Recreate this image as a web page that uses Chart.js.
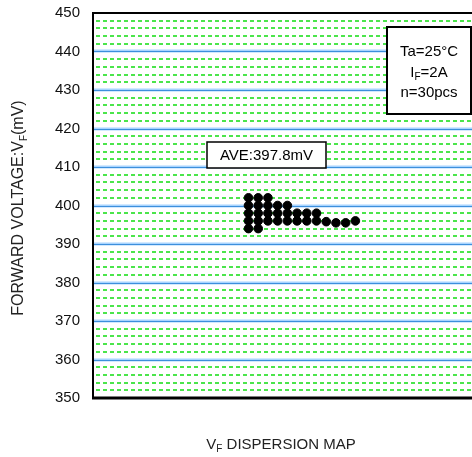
<!DOCTYPE html>
<html>
<head>
<meta charset="utf-8">
<script src="https://cdn.jsdelivr.net/npm/chart.js@4.4.1/dist/chart.umd.min.js"></script>
<style>
  html, body { margin: 0; padding: 0; background: #fff; }
  #vfChart { display: block; }
</style>
</head>
<body>
<canvas id="vfChart" width="472" height="457"></canvas>
<script>
// each dot is one sample: position in its row and its forward voltage (mV)
const sampleIndex = [
  16, 17, 18,
  16, 17, 18, 19, 20,
  16, 17, 18, 19, 20, 21, 22, 23,
  16, 17, 18, 19, 20, 21, 22, 23, 24, 25, 26, 27,
  16, 17
];
const forwardVoltage = [
  402, 402, 402,
  400, 400, 400, 400, 400,
  398, 398, 398, 398, 398, 398, 398, 398,
  396, 396, 396, 396, 396, 396, 396, 396, 395.8, 395.5, 395.5, 396,
  394, 394
];
const yTicks = [350, 360, 370, 380, 390, 400, 410, 420, 430, 440, 450];
const minorStep = 2;
const aveLabel = "AVE:397.8mV";
const conditions = ["Ta=25°C", "I|F|=2A", "n=30pcs"];

const FONT = "'Liberation Sans', Arial, sans-serif";

// text with a subscript part, written as "main|sub|rest"
const drawSubText = (ctx, text, x, y, size, align) => {
  const parts = text.split("|");
  const big = size + "px " + FONT;
  const small = Math.round(size * 0.65) + "px " + FONT;
  ctx.font = big;
  let w = ctx.measureText(parts[0]).width;
  if (parts.length > 1) {
    ctx.font = small;
    w += ctx.measureText(parts[1]).width;
    ctx.font = big;
    w += ctx.measureText(parts[2]).width;
  }
  let cx = align === "center" ? x - w / 2 : x;
  ctx.textAlign = "left";
  ctx.textBaseline = "middle";
  ctx.font = big;
  ctx.fillText(parts[0], cx, y);
  cx += ctx.measureText(parts[0]).width;
  if (parts.length > 1) {
    ctx.font = small;
    ctx.fillText(parts[1], cx, y + size * 0.3);
    cx += ctx.measureText(parts[1]).width;
    ctx.font = big;
    ctx.fillText(parts[2], cx, y);
  }
};

const gridPlugin = {
  id: "gridLines",
  beforeDatasetsDraw(chart) {
    const { ctx, chartArea, scales } = chart;
    const y = scales.y;
    ctx.save();
    for (let v = y.min + minorStep; v < y.max; v += minorStep) {
      const py = Math.round(y.getPixelForValue(v));
      ctx.beginPath();
      if (v % 10 === 0) {
        ctx.setLineDash([]);
        ctx.strokeStyle = "#a8d4ff";
        ctx.lineWidth = 3;
        ctx.moveTo(chartArea.left, py);
        ctx.lineTo(chartArea.right, py);
        ctx.stroke();
        ctx.beginPath();
        ctx.strokeStyle = "#3d8fdc";
        ctx.lineWidth = 1;
        ctx.moveTo(chartArea.left, py + 0.5);
        ctx.lineTo(chartArea.right, py + 0.5);
      } else {
        ctx.setLineDash([4, 3]);
        ctx.strokeStyle = "#11dd11";
        ctx.lineWidth = 1.5;
        ctx.moveTo(chartArea.left + 3, py);
        ctx.lineTo(chartArea.right, py);
      }
      ctx.stroke();
    }
    ctx.restore();
  },
  afterDatasetsDraw(chart) {
    const { ctx, chartArea } = chart;
    ctx.save();
    ctx.setLineDash([]);
    ctx.strokeStyle = "#000";
    // frame (right side runs off the picture)
    ctx.lineWidth = 2;
    ctx.beginPath();
    ctx.moveTo(chartArea.right + 2, chartArea.top);
    ctx.lineTo(chartArea.left, chartArea.top);
    ctx.lineTo(chartArea.left, chartArea.bottom);
    ctx.stroke();
    ctx.lineWidth = 3;
    ctx.beginPath();
    ctx.moveTo(chartArea.left - 1, chartArea.bottom);
    ctx.lineTo(chartArea.right + 2, chartArea.bottom);
    ctx.stroke();

    // average box
    ctx.lineWidth = 1.5;
    ctx.fillStyle = "#fff";
    ctx.fillRect(207, 142, 119, 26);
    ctx.strokeRect(207, 142, 119, 26);
    ctx.fillStyle = "#000";
    drawSubText(ctx, aveLabel, 266.5, 155.5, 15, "center");

    // conditions box
    ctx.lineWidth = 2;
    ctx.fillStyle = "#fff";
    ctx.fillRect(387, 27, 84, 87);
    ctx.strokeRect(387, 27, 84, 87);
    ctx.fillStyle = "#000";
    conditions.forEach((c, i) => drawSubText(ctx, c, 429, 52 + i * 20.5, 15, "center"));

    // axis titles
    ctx.fillStyle = "#222";
    drawSubText(ctx, "V|F| DISPERSION MAP", 281, 445, 15, "center");
    ctx.translate(19, 208);
    ctx.rotate(-Math.PI / 2);
    drawSubText(ctx, "FORWARD VOLTAGE:V|F|(mV)", 0, 0, 16, "center");
    ctx.restore();
  }
};

new Chart(document.getElementById("vfChart"), {
  type: "scatter",
  data: {
    datasets: [
      {
        data: sampleIndex.map((x, i) => ({ x: x, y: forwardVoltage[i] })),
        backgroundColor: "#000",
        borderColor: "#000",
        pointRadius: 4.3,
        pointHoverRadius: 4.3,
      },
    ],
  },
  options: {
    responsive: false,
    animation: false,
    layout: {
      autoPadding: false,
      padding: { top: 13, bottom: 59, right: 0, left: 0 },
    },
    scales: {
      x: {
        type: "linear",
        min: 0,
        max: 39,
        display: false,
      },
      y: {
        min: 350,
        max: 450,
        afterFit: (scale) => {
          scale.width = 93;
          scale.paddingTop = 0;
          scale.paddingBottom = 0;
        },
        afterBuildTicks: (scale) => {
          scale.ticks = yTicks.map((v) => ({ value: v }));
        },
        grid: { display: false, drawTicks: false },
        border: { display: false },
        ticks: {
          padding: 13,
          color: "#111",
          font: { family: FONT, size: 15 },
        },
      },
    },
    plugins: {
      legend: { display: false },
      tooltip: { enabled: false },
    },
  },
  plugins: [gridPlugin],
});
</script>
</body>
</html>
